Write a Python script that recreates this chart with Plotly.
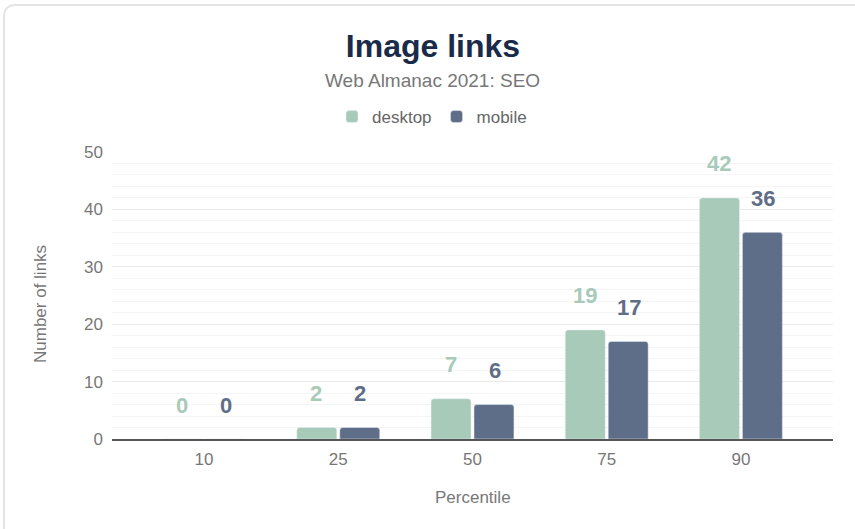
import plotly.graph_objects as go

categories = ["10", "25", "50", "75", "90"]
desktop = [0, 2, 7, 19, 42]
mobile = [0, 2, 6, 17, 36]

DESK_C = "#a8cab9"
MOB_C = "#5f6e88"
FONT = "Liberation Sans, Arial, Helvetica, sans-serif"

W, H = 855, 529
ML, MR, MT, MB = 112, 22, 152, 90
PW, PH = W - ML - MR, H - MT - MB

def px_x(x):
    return (x - ML) / PW

def px_y(y):
    return (H - MB - y) / PH

fig = go.Figure()
fig.add_trace(go.Bar(name="desktop", x=categories, y=desktop, marker=dict(color=DESK_C, cornerradius=3)))
fig.add_trace(go.Bar(name="mobile", x=categories, y=mobile, marker=dict(color=MOB_C, cornerradius=3)))

ann = []
for i, v in enumerate(desktop):
    ann.append(dict(x=i, y=v, xref="x", yref="y", text=f"<b>{v}</b>", showarrow=False,
                    xshift=-22, yshift=34, yanchor="middle", xanchor="center",
                    font=dict(family=FONT, size=22, color=DESK_C)))
for i, v in enumerate(mobile):
    ann.append(dict(x=i, y=v, xref="x", yref="y", text=f"<b>{v}</b>", showarrow=False,
                    xshift=22, yshift=34, yanchor="middle", xanchor="center",
                    font=dict(family=FONT, size=22, color=MOB_C)))
ann.append(dict(x=px_x(432), xref="paper", y=px_y(80), yref="paper", text="Web Almanac 2021: SEO",
                showarrow=False, yanchor="middle", xanchor="center",
                font=dict(family=FONT, size=19, color="#777777")))
ann.append(dict(x=px_x(40), xref="paper", y=px_y(304), yref="paper", text="Number of links",
                showarrow=False, textangle=-90, xanchor="center", yanchor="middle",
                font=dict(family=FONT, size=17, color="#777777")))
ann.append(dict(x=px_x(473), xref="paper", y=px_y(497), yref="paper", text="Percentile",
                showarrow=False, xanchor="center", yanchor="middle",
                font=dict(family=FONT, size=17, color="#777777")))

# card border (left and top visible, rounded top-left corner)
x0, y0 = px_x(4), px_y(5)
x1, y1 = px_x(900), px_y(600)
r = 12
rx, ry = r / PW, r / PH
path = (f"M {x0},{y1} L {x0},{y0 - ry} Q {x0},{y0} {x0 + rx},{y0} L {x1},{y0}")

fig.update_layout(
    width=W, height=H,
    margin=dict(l=ML, r=MR, t=MT, b=MB),
    paper_bgcolor="white", plot_bgcolor="white",
    barmode="group", bargap=0.36, bargroupgap=0.07,
    title=dict(text="<b>Image links</b>", x=433 / W, xanchor="center", xref="container",
               y=1 - 46 / H, yref="container", yanchor="middle",
               font=dict(family="Liberation Sans, Arial, sans-serif", size=32, color="#1a2b49")),
    legend=dict(orientation="h", x=px_x(432), xanchor="center", xref="paper",
                y=px_y(117), yanchor="middle",
                font=dict(family=FONT, size=17, color="#666666"),
                itemwidth=30, traceorder="normal"),
    font=dict(family=FONT, color="#777777"),
    xaxis=dict(type="category", range=[-0.686, 4.686], showgrid=False,
               showline=True, linecolor="#555555", linewidth=2,
               tickfont=dict(family=FONT, size=17, color="#777777"),
               ticks="", ticklen=0, zeroline=False, ticklabelstandoff=4),
    yaxis=dict(range=[0, 50], dtick=10, showgrid=True, gridcolor="#ebebeb", gridwidth=1,
               minor=dict(dtick=2, showgrid=True, gridcolor="#f5f5f5", gridwidth=1),
               tickfont=dict(family=FONT, size=17, color="#777777"),
               zeroline=False,
               ticks="", ticklabelstandoff=8, showline=False),
    annotations=ann,
    shapes=[dict(type="path", path=path, xref="paper", yref="paper",
                 line=dict(color="#e4e4e4", width=2), layer="below")],
)

fig.write_html("out.html", config={"displayModeBar": False},
               post_script="document.body.style.margin='0';")
